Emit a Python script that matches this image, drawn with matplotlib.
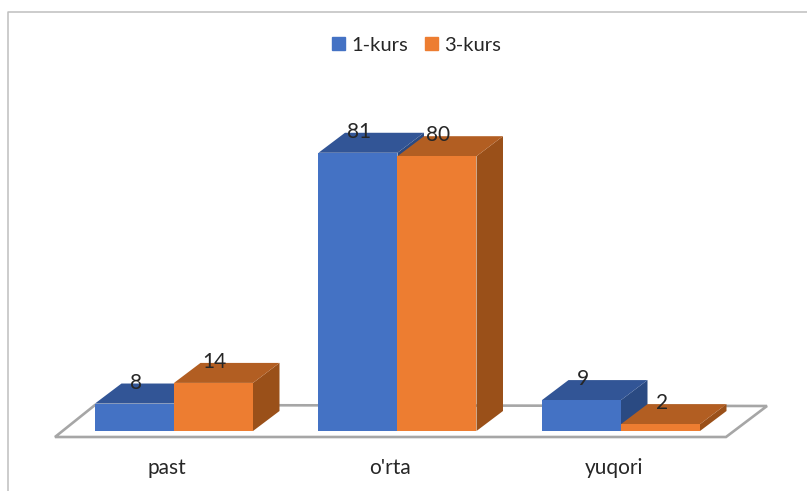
import numpy as np
import matplotlib.pyplot as plt
from matplotlib.patches import Polygon, Patch
from matplotlib.lines import Line2D

categories = ["past", "o'rta", "yuqori"]
kurs1 = [8, 81, 9]
kurs3 = [14, 80, 2]
series_names = ["1-kurs", "3-kurs"]

plt.rcParams['font.family'] = ['Lato', 'DejaVu Sans']

W, H = 807, 491
x0 = 174.0      # pixel of first group centre
step = 223.5    # pixels between groups
unit = 3.435    # pixels per value
base = 431.0    # pixel row of value 0
ax_bottom = 443.0
fs = 15

fig = plt.figure(figsize=(W/100, H/100), dpi=100)
ax = fig.add_axes([0, 1 - ax_bottom/H, 1, ax_bottom/H])
ax.set_xlim(-x0/step, (W - x0)/step)
ax.set_ylim((base - ax_bottom)/unit, base/unit)
for s in ax.spines.values():
    s.set_visible(False)
ax.set_yticks([])

bar_w = 79/step
dx = 26.5/step
dy = 20/unit
x = np.arange(len(categories))

# floor
floor = Polygon([(-119/step, -6/unit), (-79/step, 26/unit), (593/step, 25/unit), (552/step, -6/unit)],
                closed=True, fc='white', ec='#A6A6A6', lw=1.9, zorder=1)
ax.add_patch(floor)

styles = [('#4472C4', '#325596', '#2A4A82'), ('#ED7D31', '#B25E22', '#9A5019')]
z = 2
for i in range(len(categories)):
    for j, vals in enumerate([kurs1, kurs3]):
        v = vals[i]
        front, top, side = styles[j]
        left = x[i] - bar_w + j*bar_w
        right = left + bar_w
        ax.add_patch(Polygon([(right, 0), (right+dx, dy), (right+dx, v+dy), (right, v)], fc=side, ec='none', zorder=z))
        ax.add_patch(Polygon([(left, v), (left+dx, v+dy), (right+dx, v+dy), (right, v)], fc=top, ec='none', zorder=z))
        ax.bar(left, v, bar_w, align='edge', color=front, zorder=z+0.5)
        z += 1

# labels go on top of everything
for j, vals in enumerate([kurs1, kurs3]):
    for i, v in enumerate(vals):
        ax.annotate(str(v), (x[i] - bar_w/2 + j*bar_w, v), xytext=(0.8, 15), textcoords='offset points',
                    ha='center', va='center', fontsize=fs, color='#262626', zorder=50)

ax.set_xticks(x - 7/step, categories)
ax.tick_params(axis='x', length=0, pad=11, labelsize=fs, labelcolor='#262626')

handles = [Patch(color=styles[0][0]), Patch(color=styles[1][0])]
ax.legend(handles, series_names, ncol=2, frameon=False, loc='center',
          bbox_to_anchor=(416.5/W, 1 - 45.5/H), bbox_transform=fig.transFigure,
          fontsize=14.5, handlelength=0.62, handleheight=0.62, handletextpad=0.3,
          columnspacing=0.87, labelcolor='#262626')

# chart border, top and left only
fig.add_artist(Line2D([7.5/W, 7.5/W, 1], [0, 1 - 11.5/H, 1 - 11.5/H], color='#BFBFBF', lw=1.1))

fig.savefig('out.png', dpi=100)
